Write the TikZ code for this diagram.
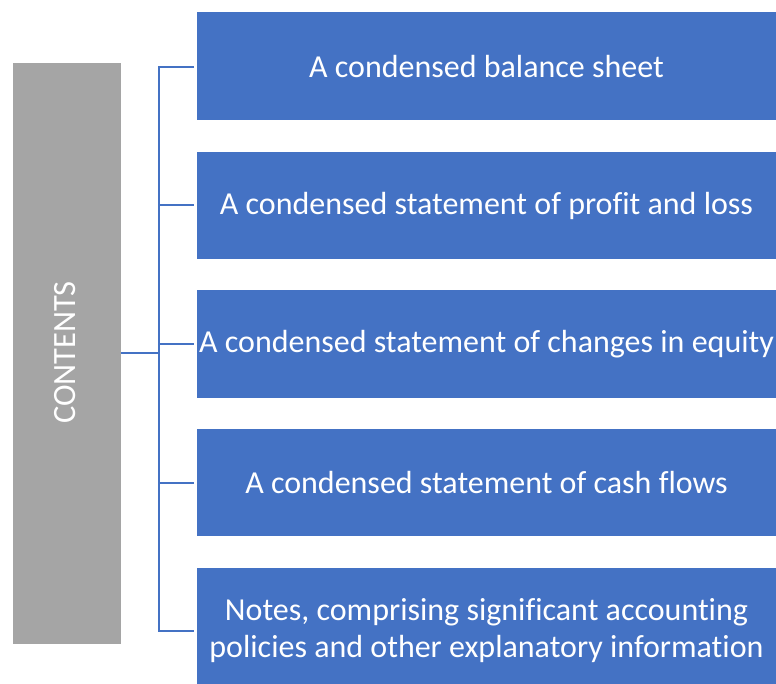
\documentclass[tikz,border=0pt]{standalone}
\usepackage{fontspec}
\setmainfont[Ligatures=NoCommon]{Carlito}
\definecolor{bblue}{HTML}{4472C4}
\definecolor{bgray}{HTML}{A5A5A5}
\begin{document}
\begin{tikzpicture}[x=1pt,y=-1pt,
  box/.style={fill=bblue, draw=none, text=white, inner sep=0pt, minimum width=579pt, align=center, font=\fontsize{32}{37}\selectfont},
  side/.style={fill=bgray, draw=none, text=white, inner sep=0pt, minimum width=108pt, minimum height=581pt},
  conn/.style={draw=bblue, line width=2pt}]
\useasboundingbox (0,0) rectangle (776,684);
\node[side] (g) at (67,353.5) {};
\node[rotate=90, text=white, inner sep=0pt, font=\fontsize{32.5}{37}\selectfont] (gt) at (65.5,352.5) {CONTENTS};
\node[box, minimum height=107.5pt] (b1) at (486.5,66.25) {A condensed balance sheet};
\node[box, minimum height=107pt] (b2) at (486.5,205.5) {A condensed statement of profit and loss};
\node[box, minimum height=107.5pt] (b3) at (486.5,344.25) {A condensed statement of changes in equity};
\node[box, minimum height=107pt] (b4) at (486.5,482.5) {A condensed statement of cash flows};
\node[box, minimum height=126pt] (b5) at (486.5,631) {Notes, comprising significant accounting\\policies and other explanatory information};
\coordinate (j) at (159,353);
\coordinate (t1) at (159,67);
\coordinate (t2) at (159,205.5);
\coordinate (t3) at (159,344);
\coordinate (t4) at (159,483);
\coordinate (t5) at (159,631);
\coordinate (e1) at (194,67);
\coordinate (e2) at (194,205.5);
\coordinate (e3) at (194,344);
\coordinate (e4) at (194,483);
\coordinate (e5) at (194,631);
\draw[conn] (g.east |- j) -- (j);
\draw[conn] (e1) -- (t1) -- (t5) -- (e5);
\draw[conn] (t2) -- (e2);
\draw[conn] (t3) -- (e3);
\draw[conn] (t4) -- (e4);
\end{tikzpicture}
\end{document}
